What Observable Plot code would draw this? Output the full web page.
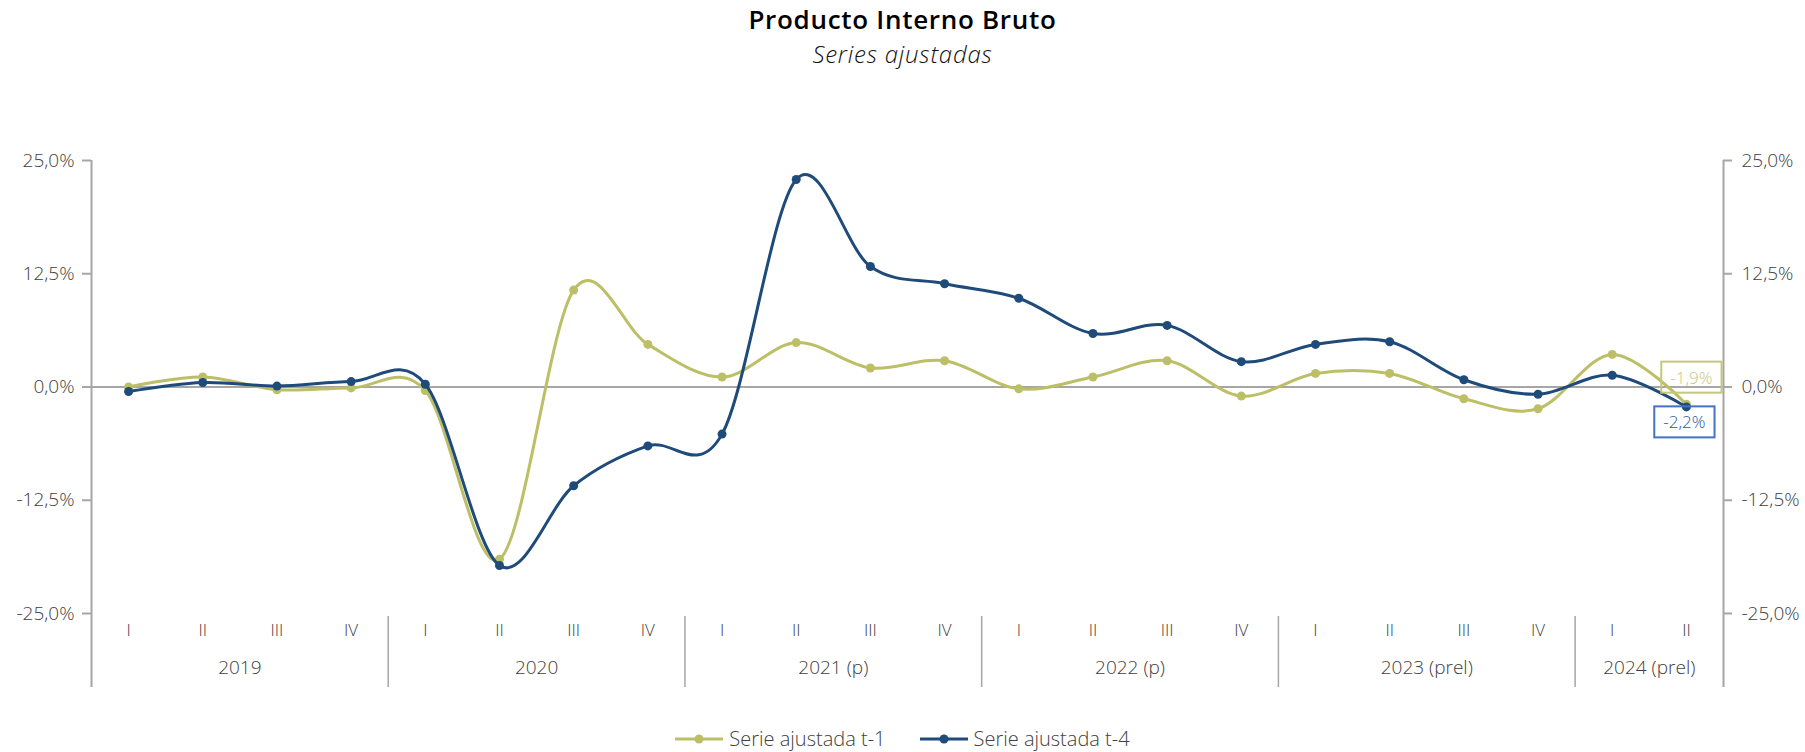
<!DOCTYPE html>
<html>
<head>
<meta charset="utf-8">
<script src="https://cdn.jsdelivr.net/npm/d3@7"></script>
<script src="https://cdn.jsdelivr.net/npm/@observablehq/plot@0.6"></script>
<style>
  html, body { margin: 0; padding: 0; background: #fff; }
  body { width: 1805px; height: 752px; position: relative; overflow: hidden; font-family: "Open Sans", Lato, sans-serif; }
  #title { position: absolute; top: 6px; left: 0; width: 1805px; text-align: center; font-size: 26px; line-height: 26px; letter-spacing: 0.7px; font-weight: 600; color: #000; }
  #subtitle { position: absolute; top: 42px; left: 0; width: 1805px; text-align: center; font-size: 24px; line-height: 24px; letter-spacing: 0.8px; font-style: italic; font-weight: 300; color: #111; }
  #chart { position: absolute; top: 70px; left: 0; }
  #legend { position: absolute; top: 727px; left: 0; width: 1805px; display: flex; justify-content: center; gap: 34px; font-size: 20px; line-height: 24px; color: #404040; font-weight: 300; }
  .item { display: flex; align-items: center; gap: 6px; }
</style>
</head>
<body>
<div id="title">Producto Interno Bruto</div>
<div id="subtitle">Series ajustadas</div>
<div id="chart"></div>
<div id="legend"></div>
<script>
// ---- data ----
const years = ["2019", "2020", "2021 (p)", "2022 (p)", "2023 (prel)", "2024 (prel)"];
const quartersPerYear = [4, 4, 4, 4, 4, 2];
const quarterNames = ["I", "II", "III", "IV"];
const serieT1 = [0.0, 1.1, -0.3, -0.1, -0.4, -19.0, 10.7, 4.7, 1.1, 4.9, 2.1, 2.9, -0.2, 1.1, 2.9, -1.0, 1.5, 1.5, -1.3, -2.4, 3.6, -1.9];
const serieT4 = [-0.5, 0.5, 0.1, 0.6, 0.3, -19.7, -10.9, -6.5, -5.2, 22.9, 13.3, 11.4, 9.8, 5.9, 6.8, 2.8, 4.7, 5.0, 0.8, -0.8, 1.3, -2.2];
const yTicks = [-25, -12.5, 0, 12.5, 25];
const seriesNames = ["Serie ajustada t-1", "Serie ajustada t-4"];
const colorT1 = "#bdbf67";
const colorT4 = "#1f4b7a";

// ---- derived tables ----
const quarters = [];
const yearLabels = [];
const boundaries = [];
let idx = 0;
years.forEach((y, k) => {
  const n = quartersPerYear[k];
  boundaries.push(idx - 0.5);
  for (let j = 0; j < n; j++) quarters.push({i: idx + j, q: quarterNames[j]});
  yearLabels.push({x: idx + (n - 1) / 2, label: y});
  idx += n;
});
boundaries.push(idx - 0.5);
const nCat = idx;
const rowsT1 = serieT1.map((v, i) => ({i, v}));
const rowsT4 = serieT4.map((v, i) => ({i, v}));
const fmt = d => d.toFixed(1).replace(".", ",") + "%";
const lastT1 = [rowsT1[rowsT1.length - 1]];
const lastT4 = [rowsT4[rowsT4.length - 1]];
const outer = [boundaries[0], boundaries[boundaries.length - 1]];
const inner = boundaries.slice(1, -1);

const curve = d3.curveCardinal.tension(0);
const W = 1805, H = 650, MT = 90, MB = 107, ML = 91, MR = 82;
const innerH = H - MT - MB;
const innerW = W - ML - MR;
const axisGray = "#a6a6a6";
const textGray = "#404040";

const chart = Plot.plot({
  width: W,
  height: H,
  marginTop: MT,
  marginBottom: MB,
  marginLeft: ML,
  marginRight: MR,
  style: {fontFamily: "'Open Sans', Lato, sans-serif", color: textGray, background: "#fff"},
  x: {type: "linear", domain: [-0.5, nCat - 0.5], axis: null},
  y: {domain: [-25, 25], axis: null},
  marks: [
    Plot.ruleY([0], {stroke: axisGray, strokeWidth: 2}),
    Plot.ruleX(outer, {x: d => d, stroke: axisGray, strokeWidth: 2, insetBottom: -74}),
    Plot.ruleX(inner, {x: d => d, stroke: axisGray, strokeWidth: 1.5, insetTop: innerH + 3, insetBottom: -74}),
    // y tick marks (left and right)
    Plot.ruleY(yTicks, {y: d => d, stroke: axisGray, strokeWidth: 2, insetLeft: -9, insetRight: innerW}),
    Plot.ruleY(yTicks, {y: d => d, stroke: axisGray, strokeWidth: 2, insetLeft: innerW, insetRight: -9}),
    // y tick labels
    Plot.text(yTicks, {y: d => d, text: fmt, frameAnchor: "left", dx: -17, textAnchor: "end", fontSize: 19, fontWeight: 300, fill: textGray}),
    Plot.text(yTicks, {y: d => d, text: fmt, frameAnchor: "right", dx: 18, textAnchor: "start", fontSize: 19, fontWeight: 300, fill: textGray}),
    Plot.text(quarters, {x: "i", text: "q", frameAnchor: "bottom", dy: 22, fontSize: 17, fontWeight: 300, fill: textGray}),
    Plot.text(yearLabels, {x: "x", text: "label", frameAnchor: "bottom", dy: 60, fontSize: 19, fontWeight: 300, fill: textGray}),
    Plot.line(rowsT1, {x: "i", y: "v", stroke: colorT1, strokeWidth: 3, curve}),
    Plot.dot(rowsT1, {x: "i", y: "v", r: 4.5, fill: colorT1}),
    Plot.line(rowsT4, {x: "i", y: "v", stroke: colorT4, strokeWidth: 3, curve}),
    Plot.dot(rowsT4, {x: "i", y: "v", r: 4.5, fill: colorT4}),
    Plot.text(lastT1, {x: "i", y: "v", text: d => fmt(d.v), dx: 5, dy: -26, fontSize: 17, fontWeight: 300, fill: "#c5c77c", className: "lbl-t1"}),
    Plot.text(lastT4, {x: "i", y: "v", text: d => fmt(d.v), dx: -2, dy: 16, fontSize: 17, fontWeight: 300, fill: "#2f5597", className: "lbl-t4"})
  ]
});
document.getElementById("chart").appendChild(chart);

// boxes around end labels
function boxify(cls, stroke) {
  chart.querySelectorAll(`g.${cls} text`).forEach(t => {
    const b = t.getBBox();
    const r = document.createElementNS("http://www.w3.org/2000/svg", "rect");
    const padX = 9, padY = 4;
    r.setAttribute("x", b.x - padX);
    r.setAttribute("y", b.y - padY);
    r.setAttribute("width", b.width + 2 * padX);
    r.setAttribute("height", b.height + 2 * padY);
    r.setAttribute("fill", "none");
    r.setAttribute("stroke", stroke);
    r.setAttribute("stroke-width", 2);
    if (t.getAttribute("transform")) r.setAttribute("transform", t.getAttribute("transform"));
    t.parentNode.insertBefore(r, t);
  });
}
boxify("lbl-t1", "#c5c77c");
boxify("lbl-t4", "#4472c4");

// legend
const legend = document.getElementById("legend");
[[seriesNames[0], colorT1], [seriesNames[1], colorT4]].forEach(([name, c]) => {
  const item = document.createElement("div");
  item.className = "item";
  item.innerHTML = `<svg width="48" height="12"><line x1="0" x2="48" y1="6" y2="6" stroke="${c}" stroke-width="3"/><circle cx="24" cy="6" r="4.5" fill="${c}"/></svg><span>${name}</span>`;
  legend.appendChild(item);
});
</script>
</body>
</html>
